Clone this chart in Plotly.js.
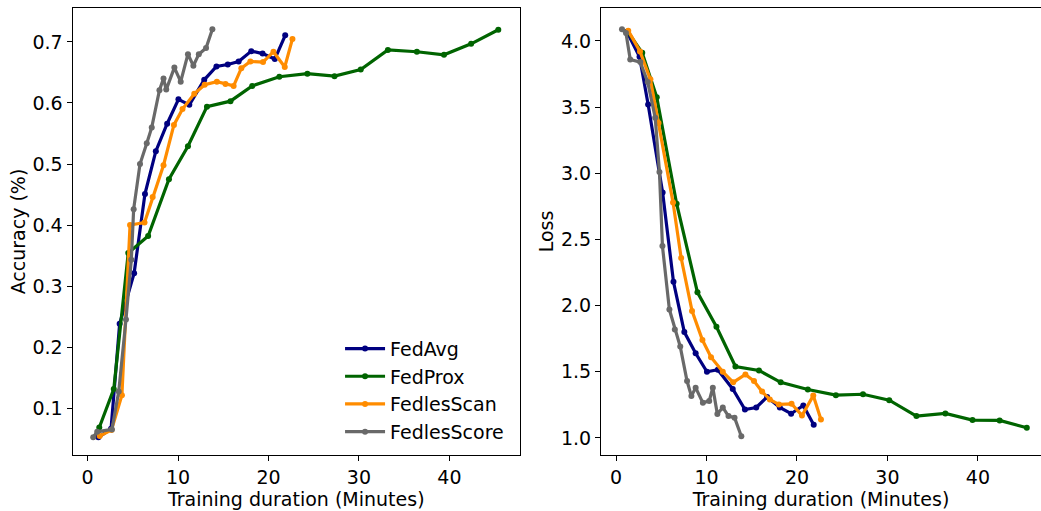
<!DOCTYPE html>
<html>
<head>
<meta charset="utf-8">
<script src="https://cdn.plot.ly/plotly-3.0.1.min.js"></script>
<style>html,body{margin:0;padding:0;background:#fff;}#chart{width:1041px;height:511px;}</style>
</head>
<body>
<div id="chart"></div>
<script>
// ---- data ----
const seriesNames = ["FedAvg", "FedProx", "FedlesScan", "FedlesScore"];

const fedAvgX    = [1.2, 2.6, 3.55, 5.15, 6.35, 7.55, 8.8, 10.05, 11.25, 12.9, 14.25, 15.5, 16.7, 18.1, 19.35, 20.7, 21.85];
const fedAvgAcc  = [0.052, 0.066, 0.238, 0.321, 0.451, 0.521, 0.566, 0.606, 0.597, 0.638, 0.660, 0.663, 0.668, 0.685, 0.681, 0.672, 0.711];
const fedAvgLoss = [4.07, 3.88, 3.52, 2.855, 2.18, 1.80, 1.64, 1.50, 1.515, 1.37, 1.215, 1.23, 1.31, 1.23, 1.183, 1.245, 1.10];

const fedProxX    = [1.3, 2.9, 4.5, 6.7, 9.0, 11.1, 13.2, 15.8, 18.2, 21.2, 24.3, 27.3, 30.2, 33.2, 36.4, 39.4, 42.4, 45.4];
const fedProxAcc  = [0.068, 0.131, 0.354, 0.382, 0.475, 0.529, 0.594, 0.603, 0.628, 0.643, 0.648, 0.644, 0.655, 0.687, 0.684, 0.679, 0.697, 0.720];
const fedProxLoss = [4.07, 3.91, 3.575, 2.77, 2.10, 1.84, 1.54, 1.51, 1.42, 1.366, 1.323, 1.33, 1.285, 1.165, 1.185, 1.135, 1.132, 1.077];

const fedlesScanX    = [1.35, 2.65, 3.8, 4.7, 6.3, 7.2, 8.4, 9.55, 10.5, 11.8, 12.95, 14.3, 15.25, 16.15, 17.0, 18.0, 19.4, 20.55, 21.8, 22.65];
const fedlesScanAcc  = [0.054, 0.064, 0.121, 0.400, 0.404, 0.446, 0.498, 0.564, 0.590, 0.615, 0.630, 0.635, 0.631, 0.628, 0.657, 0.668, 0.667, 0.684, 0.659, 0.705];
const fedlesScanLoss = [4.078, 3.92, 3.71, 3.38, 2.78, 2.36, 1.96, 1.74, 1.61, 1.50, 1.42, 1.48, 1.43, 1.35, 1.29, 1.253, 1.258, 1.17, 1.32, 1.14];

const fedlesScoreAccX = [0.63, 1.07, 2.7, 3.45, 4.25, 4.84, 5.1, 5.8, 6.55, 7.1, 7.95, 8.4, 8.7, 9.6, 10.3, 11.1, 11.7, 12.3, 13.1, 13.8];
const fedlesScoreAcc  = [0.052, 0.061, 0.065, 0.127, 0.245, 0.343, 0.426, 0.500, 0.534, 0.560, 0.621, 0.640, 0.622, 0.658, 0.635, 0.680, 0.661, 0.680, 0.690, 0.721];
const fedlesScoreLossX = [0.66, 1.1, 1.57, 2.68, 3.5, 4.33, 4.8, 5.13, 5.9, 6.5, 7.1, 7.85, 8.33, 8.8, 9.6, 10.3, 10.7, 11.2, 11.8, 12.43, 13.1, 13.85];
const fedlesScoreLoss  = [4.088, 4.06, 3.86, 3.84, 3.69, 3.42, 3.01, 2.45, 1.97, 1.82, 1.69, 1.43, 1.316, 1.38, 1.265, 1.28, 1.38, 1.18, 1.23, 1.165, 1.153, 1.013];

const colors = ["#000080", "#006400", "#ff8c00", "#696969"];

// ---- build traces ----
const accSets = [
  [fedAvgX, fedAvgAcc], [fedProxX, fedProxAcc], [fedlesScanX, fedlesScanAcc], [fedlesScoreAccX, fedlesScoreAcc]
];
const lossSets = [
  [fedAvgX, fedAvgLoss], [fedProxX, fedProxLoss], [fedlesScanX, fedlesScanLoss], [fedlesScoreLossX, fedlesScoreLoss]
];

const traces = [];
accSets.forEach((s, i) => {
  traces.push({
    x: s[0], y: s[1], type: "scatter", mode: "lines+markers",
    name: seriesNames[i], legendgroup: "g" + i,
    line: {color: colors[i], width: 3.2},
    marker: {color: colors[i], size: 6},
    xaxis: "x", yaxis: "y"
  });
});
lossSets.forEach((s, i) => {
  traces.push({
    x: s[0], y: s[1], type: "scatter", mode: "lines+markers",
    name: seriesNames[i], legendgroup: "g" + i, showlegend: false,
    line: {color: colors[i], width: 3.2},
    marker: {color: colors[i], size: 6},
    xaxis: "x2", yaxis: "y2"
  });
});

const W = 1041, H = 511;
const fontFam = "DejaVu Sans, sans-serif";
const FS = 19;
const axisCommon = {
  showgrid: false, zeroline: false, showline: true, linecolor: "#000", linewidth: 1,
  ticks: "outside", ticklen: 5, tickwidth: 1, tickcolor: "#000",
  tickfont: {family: fontFam, size: FS, color: "#000"}
};
const yDom = [56 / H, 503 / H];
const titleFont = {family: fontFam, size: FS, color: "#000"};

const layout = {
  width: W, height: H,
  margin: {l: 0, r: 0, t: 0, b: 0},
  paper_bgcolor: "#fff", plot_bgcolor: "#fff",
  font: {family: fontFam, size: FS, color: "#000"},
  showlegend: true,
  legend: {
    x: 0.489, y: 0.118, xanchor: "right", yanchor: "bottom",
    bgcolor: "rgba(255,255,255,0)", borderwidth: 0,
    font: {family: fontFam, size: FS, color: "#000"},
    itemwidth: 40,
    traceorder: "grouped", tracegroupgap: 0
  },
  xaxis: Object.assign({}, axisCommon, {
    domain: [72.5 / W, 520 / W], range: [-1.66, 47.8], dtick: 10, tick0: 0,
    mirror: true, anchor: "y",
    title: {text: "Training duration (Minutes)", font: titleFont, standoff: 4}
  }),
  yaxis: Object.assign({}, axisCommon, {
    domain: yDom, range: [0.023, 0.7557], dtick: 0.1, tick0: 0, tickformat: ".1f",
    mirror: true, anchor: "x",
    title: {text: "Accuracy (%)", font: titleFont, standoff: 1}
  }),
  xaxis2: Object.assign({}, axisCommon, {
    domain: [601 / W, 1], range: [-1.66, -1.66 + 440 / 9.048], dtick: 10, tick0: 0,
    mirror: true, anchor: "y2",
    title: {text: "Training duration (Minutes)", font: titleFont, standoff: 4}
  }),
  yaxis2: Object.assign({}, axisCommon, {
    domain: yDom, range: [0.871, 4.249], dtick: 0.5, tick0: 0, tickformat: ".1f",
    mirror: false, anchor: "x2",
    title: {text: "Loss", font: titleFont, standoff: 2}
  })
};

Plotly.newPlot("chart", traces, layout, {displayModeBar: false, staticPlot: true});
</script>
</body>
</html>
